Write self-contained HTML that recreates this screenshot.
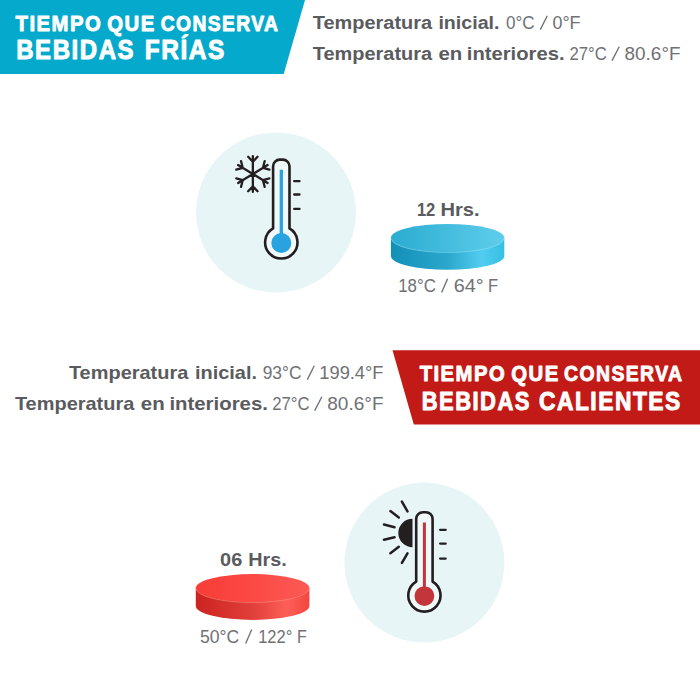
<!DOCTYPE html>
<html><head><meta charset="utf-8"><title>Bebidas</title>
<style>
html,body{margin:0;padding:0;background:#fff;}
body{width:700px;height:700px;position:relative;overflow:hidden;font-family:"Liberation Sans",sans-serif;}
svg{position:absolute;left:0;top:0;display:block;}
text{font-family:"Liberation Sans",sans-serif;}
</style></head><body>
<svg width="700" height="700" viewBox="0 0 700 700"><polygon points="0,0 305,0 283.7,74 0,74" fill="#05a9cb"/><polygon points="392.5,350.3 700,350.3 700,424.6 413.8,424.6" fill="#c21a17"/><circle cx="276" cy="212.5" r="80" fill="#e8f5f7"/><circle cx="424.4" cy="562.6" r="80" fill="#e8f5f7"/><path d="M252.85,174.00 L252.85,156.10 M252.85,161.70 L248.15,156.75 M252.85,161.70 L257.55,156.75 M252.85,174.00 L238.12,165.05 M242.73,167.85 L236.31,169.66 M242.73,167.85 L241.01,161.09 M252.85,174.00 L238.12,182.95 M242.73,180.15 L241.01,186.91 M242.73,180.15 L236.31,178.34 M252.85,174.00 L252.85,191.90 M252.85,186.30 L257.55,191.25 M252.85,186.30 L248.15,191.25 M252.85,174.00 L267.58,182.95 M262.97,180.15 L269.39,178.34 M262.97,180.15 L264.69,186.91 M252.85,174.00 L267.58,165.05 M262.97,167.85 L264.69,161.09 M262.97,167.85 L269.39,169.66 " fill="none" stroke="#231f20" stroke-width="2.3" stroke-linecap="round" stroke-linejoin="round"/><path d="M273.10,228.49 L273.10,166.30 A6.7,6.7 0 0 1 279.80,159.60 L282.80,159.60 A6.7,6.7 0 0 1 289.50,166.30 L289.50,228.49 A16.15,16.15 0 1 1 273.10,228.49 Z" fill="#f0f8f9" stroke="#231f20" stroke-width="2.6" stroke-linejoin="round"/><line x1="281.3" y1="169.70" x2="281.3" y2="243.05" stroke="#29a2e0" stroke-width="3.3"/><circle cx="281.3" cy="243.05" r="10" fill="#29a2e0"/><line x1="294.2" y1="181.2" x2="299.5" y2="181.2" stroke="#231f20" stroke-width="2.3" stroke-linecap="round"/><line x1="294.2" y1="194.5" x2="299.5" y2="194.5" stroke="#231f20" stroke-width="2.3" stroke-linecap="round"/><line x1="294.2" y1="208.9" x2="299.5" y2="208.9" stroke="#231f20" stroke-width="2.3" stroke-linecap="round"/><path d="M412.5,518.8 A14.2,14.2 0 0 0 412.5,547.2 Z" fill="#231f20"/><line x1="401.89" y1="501.57" x2="407.51" y2="511.43" stroke="#231f20" stroke-width="2.5" stroke-linecap="round"/><line x1="390.39" y1="511.11" x2="398.81" y2="517.59" stroke="#231f20" stroke-width="2.5" stroke-linecap="round"/><line x1="383.97" y1="524.55" x2="394.53" y2="527.25" stroke="#231f20" stroke-width="2.5" stroke-linecap="round"/><line x1="383.97" y1="539.77" x2="394.53" y2="537.23" stroke="#231f20" stroke-width="2.5" stroke-linecap="round"/><line x1="390.39" y1="553.29" x2="398.81" y2="546.86" stroke="#231f20" stroke-width="2.5" stroke-linecap="round"/><line x1="401.91" y1="562.89" x2="407.49" y2="553.36" stroke="#231f20" stroke-width="2.5" stroke-linecap="round"/><path d="M416.20,581.59 L416.20,518.90 A6.7,6.7 0 0 1 422.90,512.20 L425.90,512.20 A6.7,6.7 0 0 1 432.60,518.90 L432.60,581.59 A16.15,16.15 0 1 1 416.20,581.59 Z" fill="#f0f8f9" stroke="#231f20" stroke-width="2.6" stroke-linejoin="round"/><line x1="424.4" y1="522.50" x2="424.4" y2="596.05" stroke="#c2363b" stroke-width="3.0"/><circle cx="424.4" cy="596.05" r="9.9" fill="#c2363b"/><line x1="440.1" y1="529.8" x2="445.7" y2="529.8" stroke="#231f20" stroke-width="2.3" stroke-linecap="round"/><line x1="440.1" y1="543.6" x2="445.7" y2="543.6" stroke="#231f20" stroke-width="2.3" stroke-linecap="round"/><line x1="440.1" y1="558.6" x2="445.7" y2="558.6" stroke="#231f20" stroke-width="2.3" stroke-linecap="round"/><defs><linearGradient id="bt" x1="0" x2="1" y1="0" y2="0"><stop offset="0" stop-color="#2aacd1"/><stop offset="1" stop-color="#5fcdeb"/></linearGradient><linearGradient id="bs" x1="0" x2="1" y1="0" y2="0"><stop offset="0" stop-color="#1390b8"/><stop offset="0.5" stop-color="#2ba7cd"/><stop offset="0.8" stop-color="#52cdf0"/><stop offset="1" stop-color="#35bfe4"/></linearGradient></defs><path d="M390.90000000000003,237.9 L390.90000000000003,255.9 A56.7,13.9 0 0 0 504.3,255.9 L504.3,237.9 Z" fill="url(#bs)"/><ellipse cx="447.6" cy="237.9" rx="56.7" ry="13.9" fill="url(#bt)"/><path d="M391.40000000000003,238.5 A56.2,13.9 0 0 0 503.8,238.5" fill="none" stroke="#8fe0f5" stroke-width="0.9" opacity="0.7"/><defs><linearGradient id="rt" x1="0" x2="1" y1="0" y2="0"><stop offset="0" stop-color="#f73c37"/><stop offset="0.5" stop-color="#fc4944"/><stop offset="1" stop-color="#fc5a55"/></linearGradient><linearGradient id="rs" x1="0" x2="1" y1="0" y2="0"><stop offset="0" stop-color="#cc2320"/><stop offset="0.5" stop-color="#e13f3a"/><stop offset="0.8" stop-color="#fd5f57"/><stop offset="1" stop-color="#f34640"/></linearGradient></defs><path d="M195.8,588.0 L195.8,606.0 A56.8,13.9 0 0 0 309.4,606.0 L309.4,588.0 Z" fill="url(#rs)"/><ellipse cx="252.6" cy="588.0" rx="56.8" ry="13.9" fill="url(#rt)"/><path d="M196.3,588.6 A56.3,13.9 0 0 0 308.9,588.6" fill="none" stroke="#ff8a80" stroke-width="0.9" opacity="0.7"/>
<g font-size="22.00" font-weight="bold" fill="#ffffff" stroke="#ffffff" stroke-width="0.9" stroke-linejoin="round" letter-spacing="1.6"><text transform="translate(15.55,30.55) scale(0.9235,1)">TIEMPO</text><text transform="translate(107.24,30.55) scale(0.9252,1)">QUE</text><text transform="translate(160.68,30.55) scale(0.8763,1)">CONSERVA</text></g>
<g font-size="27.54" font-weight="bold" fill="#ffffff" stroke="#ffffff" stroke-width="1.0" stroke-linejoin="round" letter-spacing="1.8"><text transform="translate(16.16,59.20) scale(0.8716,1)">BEBIDAS</text><text transform="translate(144.63,59.20) scale(0.8882,1)">FRÍAS</text></g>
<g font-size="18.14" font-weight="bold" fill="#5a5b5e"><text transform="translate(312.80,29.00) scale(1.0992,1)">Temperatura</text><text transform="translate(438.42,29.00) scale(1.0822,1)">inicial.</text></g>
<g font-size="18.57" font-weight="normal" fill="#707174"><text transform="translate(505.89,29.00) scale(0.9196,1)">0°C</text><line x1="540.30" y1="29.60" x2="547.30" y2="15.80" stroke="#707174" stroke-width="1.35"/><text transform="translate(552.46,29.00) scale(0.9653,1)">0°F</text></g>
<g font-size="18.14" font-weight="bold" fill="#5a5b5e"><text transform="translate(312.80,60.00) scale(1.0992,1)">Temperatura</text><text transform="translate(438.39,60.00) scale(1.1268,1)">en</text><text transform="translate(466.79,60.00) scale(1.1159,1)">interiores.</text></g>
<g font-size="18.57" font-weight="normal" fill="#707174"><text transform="translate(569.46,60.00) scale(0.9007,1)">27°C</text><line x1="612.00" y1="60.60" x2="619.20" y2="46.80" stroke="#707174" stroke-width="1.35"/><text transform="translate(624.54,60.00) scale(1.0205,1)">80.6°F</text></g>
<g font-size="18.12" font-weight="bold" fill="#5a5b5e"><text transform="translate(416.91,215.80) scale(0.9126,1)">12</text><text transform="translate(440.49,215.80) scale(1.1116,1)">Hrs.</text></g>
<g font-size="18.84" font-weight="normal" fill="#707174"><text transform="translate(398.22,291.90) scale(0.8961,1)">18°C</text><line x1="441.60" y1="292.50" x2="447.60" y2="278.70" stroke="#707174" stroke-width="1.35"/><text transform="translate(453.81,291.90) scale(1.0522,1)">64°</text><text transform="translate(488.07,291.90) scale(0.8811,1)">F</text></g>
<g font-size="18.14" font-weight="bold" fill="#5a5b5e"><text transform="translate(68.90,379.00) scale(1.1010,1)">Temperatura</text><text transform="translate(195.00,379.00) scale(1.0989,1)">inicial.</text></g>
<g font-size="18.57" font-weight="normal" fill="#707174"><text transform="translate(262.70,379.00) scale(0.9364,1)">93°C</text><line x1="307.30" y1="379.60" x2="314.30" y2="365.80" stroke="#707174" stroke-width="1.35"/><text transform="translate(319.32,379.00) scale(0.9847,1)">199.4°F</text></g>
<g font-size="18.14" font-weight="bold" fill="#5a5b5e"><text transform="translate(14.90,410.00) scale(1.1010,1)">Temperatura</text><text transform="translate(140.79,410.00) scale(1.1268,1)">en</text><text transform="translate(169.38,410.00) scale(1.1241,1)">interiores.</text></g>
<g font-size="18.57" font-weight="normal" fill="#707174"><text transform="translate(272.16,410.00) scale(0.9007,1)">27°C</text><line x1="314.70" y1="410.60" x2="321.90" y2="396.80" stroke="#707174" stroke-width="1.35"/><text transform="translate(327.24,410.00) scale(1.0261,1)">80.6°F</text></g>
<g font-size="22.00" font-weight="bold" fill="#ffffff" stroke="#ffffff" stroke-width="0.9" stroke-linejoin="round" letter-spacing="1.6"><text transform="translate(419.65,380.55) scale(0.9213,1)">TIEMPO</text><text transform="translate(511.24,380.55) scale(0.9252,1)">QUE</text><text transform="translate(564.07,380.55) scale(0.8824,1)">CONSERVA</text></g>
<g font-size="25.94" font-weight="bold" fill="#ffffff" stroke="#ffffff" stroke-width="1.0" stroke-linejoin="round" letter-spacing="1.7"><text transform="translate(421.78,409.70) scale(0.8486,1)">BEBIDAS</text><text transform="translate(538.89,409.70) scale(0.8807,1)">CALIENTES</text></g>
<g font-size="18.43" font-weight="bold" fill="#5a5b5e"><text transform="translate(220.10,565.90) scale(1.0841,1)">06</text><text transform="translate(248.31,565.90) scale(1.0748,1)">Hrs.</text></g>
<g font-size="18.99" font-weight="normal" fill="#707174"><text transform="translate(200.00,642.90) scale(0.9257,1)">50°C</text><line x1="245.70" y1="643.50" x2="251.70" y2="629.60" stroke="#707174" stroke-width="1.35"/><text transform="translate(258.14,642.90) scale(0.8695,1)">122°</text><text transform="translate(297.12,642.90) scale(0.8427,1)">F</text></g>
</svg>
</body></html>
